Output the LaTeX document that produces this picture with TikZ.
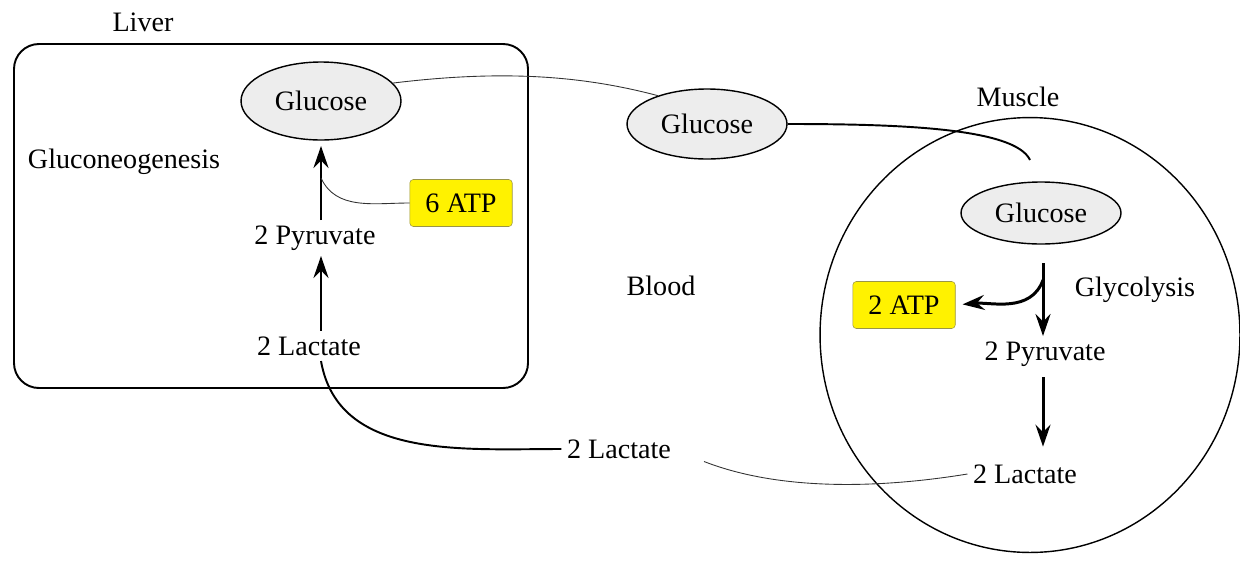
\documentclass[tikz,border=0pt]{standalone}
\usepackage{fontspec}
\setmainfont{Liberation Serif}
\newfontfamily\cycfont{Liberation Serif}
\usetikzlibrary{arrows.meta,shapes.geometric}

\begin{document}
\begin{tikzpicture}[x=0.02cm,y=0.02cm,
  every node/.style={font=\cycfont\fontsize{16}{19}\selectfont,inner sep=3pt},
  sugar/.style={ellipse,draw,fill=gray!14,line width=0.8pt,minimum width=3.2cm},
  atp/.style={fill=yellow,draw=yellow!55!black,rounded corners=2pt,line width=0.3pt,minimum width=2.05cm,minimum height=0.94cm},
  flow/.style={-{Stealth[length=4.4mm,width=3mm,inset=1.5mm]},line width=1.7pt},
  link/.style={line width=0.5pt,draw=black!80},
  bond/.style={line width=1.1pt}]
\useasboundingbox (0,0) rectangle (1240,-565);
\draw[line width=1.1pt,rounded corners=0.5cm] (14,-44) rectangle (528,-388);
\draw[line width=0.8pt] (1030,-335) ellipse [x radius=4.2cm,y radius=4.35cm];
\node (liver) at (143,-22) {Liver};
\node (muscle) at (1018,-97) {Muscle};
\node (blood) at (661,-286) {Blood};
\node (gneo) at (124,-162) {Gluconeogenesis};
\node (glyc) at (1135,-290) {Glycolysis};
\node[sugar,minimum height=1.56cm] (lglu) at (321,-101) {Glucose};
\node[atp] (atp6) at (461,-203) {6 ATP};
\node (lpyr) at (315,-238) {2 Pyruvate};
\node (llac) at (309,-346) {2 Lactate};
\node[sugar,minimum height=1.4cm] (bglu) at (707,-124) {Glucose};
\node (blac) at (619,-449) {2 Lactate};
\node[sugar,minimum height=1.24cm] (mglu) at (1041,-213) {Glucose};
\node[atp] (atp2) at (904,-305) {2 ATP};
\node (mpyr) at (1045,-354) {2 Pyruvate};
\node (mlac) at (1025,-474) {2 Lactate};
\coordinate (ljoin) at (321,-178);
\coordinate (mtop) at (1043,-263);
\coordinate (msplit) at (1043,-280);
\coordinate (mentry) at (1030,-160);
\draw[flow] (llac.north -| ljoin) -- (lpyr.south -| ljoin);
\draw[flow,shorten >=3pt] (lpyr.north -| ljoin) -- (lglu.south -| ljoin);
\draw[link] (atp6.west) to[out=180,in=-65] (ljoin);
\draw[flow] (mtop) -- (mpyr.north -| mtop);
\draw[flow,shorten <=3pt,shorten >=7pt] (mpyr.south -| mtop) -- (mlac.north -| mtop);
\draw[flow,shorten >=4pt] (msplit) to[out=-110,in=5] (atp2.east);
\draw[link] (lglu.14) .. controls (500,-70) and (580,-75) .. (bglu.150);
\draw[bond] (bglu.east) .. controls (900,-124) and (1015,-128) .. (mentry);
\draw[bond] (llac.south -| ljoin) to[out=-80,in=180] (blac.west);
\draw[link] ([xshift=0.55cm,yshift=-0.25cm]blac.east) .. controls (790,-495) and (900,-485) .. (mlac.west);
\end{tikzpicture}
\end{document}
